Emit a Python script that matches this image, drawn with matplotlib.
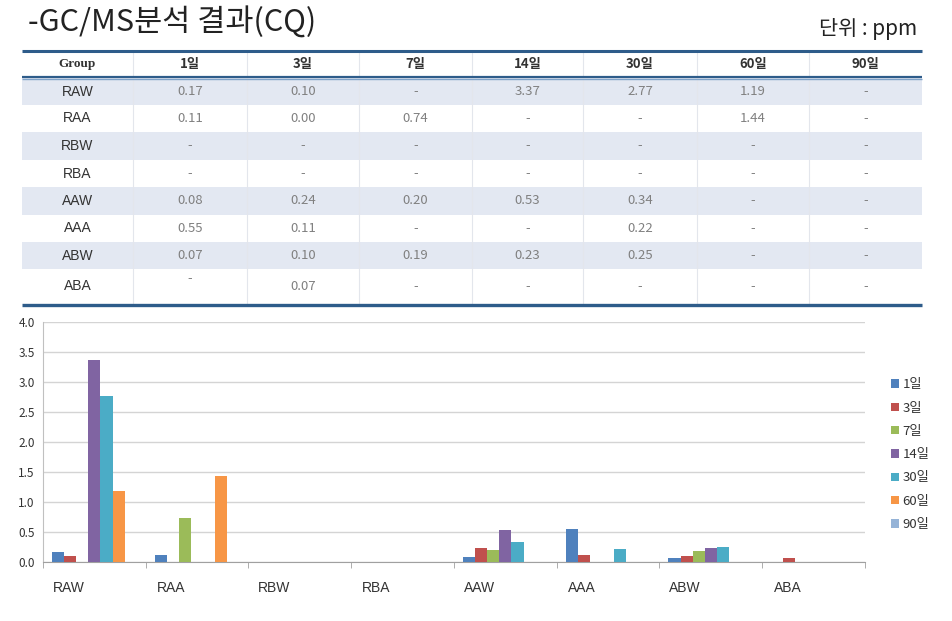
import numpy as np
import matplotlib.pyplot as plt
from matplotlib.transforms import ScaledTranslation

plt.rcParams['font.family'] = ['Noto Sans CJK KR', 'DejaVu Sans']

groups = ["RAW", "RAA", "RBW", "RBA", "AAW", "AAA", "ABW", "ABA"]
days = ["1일", "3일", "7일", "14일", "30일", "60일", "90일"]
# None = "-" in the table
d1 = [0.17, 0.11, None, None, 0.08, 0.55, 0.07, None]
d3 = [0.10, 0.00, None, None, 0.24, 0.11, 0.10, 0.07]
d7 = [None, 0.74, None, None, 0.20, None, 0.19, None]
d14 = [3.37, None, None, None, 0.53, None, 0.23, None]
d30 = [2.77, None, None, None, 0.34, 0.22, 0.25, None]
d60 = [1.19, 1.44, None, None, None, None, None, None]
d90 = [None, None, None, None, None, None, None, None]
series = [d1, d3, d7, d14, d30, d60, d90]
colors = ["#4F81BD", "#C0504D", "#9BBB59", "#8064A2", "#4BACC6", "#F79646", "#95B3D7"]

W, H = 953, 621
fig = plt.figure(figsize=(W / 100, H / 100), dpi=100)

# overlay axes in pixel coordinates for title and table
ov = fig.add_axes([0, 0, 1, 1])
ov.set_xlim(0, W)
ov.set_ylim(H, 0)
ov.axis("off")

ov.text(28, 23, "-GC/MS분석 결과(CQ)", fontsize=22, color="#222222", va="center", ha="left")
ov.text(917, 29, "단위 : ppm", fontsize=15, color="#222222", va="center", ha="right")

# table geometry
col_x = [22, 133, 247, 359, 472, 583, 697, 809, 922]
row_y = [78, 105, 132, 160, 187, 215, 242, 269, 304]
blue = "#2E5C8A"

for i in range(len(groups)):
    if i % 2 == 0:
        ov.fill_between([22, 922], row_y[i], row_y[i + 1], color="#E3E8F2", lw=0)
for x in col_x[1:-1]:
    ov.plot([x, x], [51, 304], color="#E3E6EC", lw=0.8)

ov.plot([22, 922], [51, 51], color=blue, lw=2.2, solid_capstyle="butt")
ov.plot([22, 922], [76.5, 76.5], color=blue, lw=1.6, solid_capstyle="butt")
ov.plot([22, 922], [78.5, 78.5], color="#7FA3C9", lw=1.0, solid_capstyle="butt")
ov.plot([22, 922], [304.5, 304.5], color=blue, lw=2.4, solid_capstyle="butt")

header = ["Group"] + days
for j, h in enumerate(header):
    cx = (col_x[j] + col_x[j + 1]) / 2
    ov.text(cx, 64, h, fontsize=9.5, color="#333333", ha="center", va="center",
            family=["Liberation Serif", "Noto Sans CJK KR"] if j == 0 else None,
            fontweight="bold")

for i, g in enumerate(groups):
    cy = (row_y[i] + row_y[i + 1]) / 2
    ov.text((col_x[0] + col_x[1]) / 2, cy, g, fontsize=10, color="#333333",
            ha="center", va="center", family=["Liberation Sans"])
    for j, s in enumerate(series):
        cx = (col_x[j + 1] + col_x[j + 2]) / 2
        v = s[i]
        txt = "-" if v is None else f"{v:.2f}"
        yy = cy
        if g == "ABA" and j == 0:
            yy = cy - 8
        ov.text(cx, yy, txt, fontsize=9.5, color="#808080", ha="center", va="center")

# bar chart
ax = fig.add_axes([43 / W, (H - 562) / H, (865 - 43) / W, (562 - 322) / H])
x = np.arange(len(groups))
n = len(series)
bw = 0.118
for k, s in enumerate(series):
    vals = [0 if v is None else v for v in s]
    ax.bar(x - (n - 1) / 2 * bw + k * bw, vals, bw, color=colors[k], label=days[k], zorder=3)

ax.set_xlim(-0.5, len(groups) - 0.5)
ax.set_ylim(0, 4.0)
ax.set_yticks(np.arange(0, 4.01, 0.5))
ax.set_yticklabels([f"{t:.1f}" for t in np.arange(0, 4.01, 0.5)], fontsize=8.5, color="#333333")
ax.yaxis.grid(True, color="#D4D4D4", lw=1, zorder=0)
ax.set_xticks(x)
ax.set_xticklabels(groups, fontsize=10, color="#333333", family=["Liberation Sans"])
ax.set_xticks(np.arange(-0.5, len(groups), 1), minor=True)
ax.tick_params(axis="x", which="major", length=0, pad=14)
ax.tick_params(axis="x", which="minor", length=4, color="#A0A0A0", direction="out")
ax.tick_params(axis="y", length=0, pad=6)
shift = ScaledTranslation(-26 / 100, 0, fig.dpi_scale_trans)
for lbl in ax.get_xticklabels():
    lbl.set_transform(lbl.get_transform() + shift)
for sp in ["top", "right"]:
    ax.spines[sp].set_visible(False)
ax.spines["left"].set_color("#C0C0C0")
ax.spines["bottom"].set_color("#A0A0A0")

leg = ax.legend(loc="upper left", bbox_to_anchor=(1.017, 0.815), frameon=False,
                fontsize=9.5, handlelength=0.6, handleheight=0.6, handletextpad=0.3,
                labelspacing=0.78)
for t in leg.get_texts():
    t.set_color("#333333")

fig.savefig("out.png", dpi=100)
